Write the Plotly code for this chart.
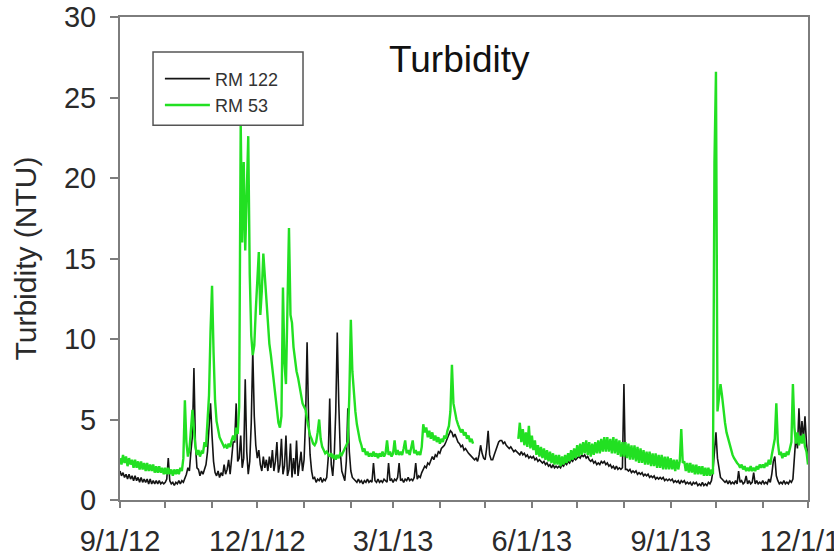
import pandas as pd
import plotly.graph_objects as go

# Daily turbidity (NTU), one value per day starting 2012-09-01, grouped by month.
rm122_ntu = (
    # Sep 2012
    [1.8, 1.5, 1.7, 1.4, 1.6, 1.3, 1.6, 1.3, 1.5, 1.2, 1.5, 1.2, 1.4, 1.1, 1.4,
     1.1, 1.3, 1.1, 1.3, 1.0, 1.3, 1.0, 1.2, 1.0, 1.2, 1.0, 1.2, 1.0, 1.1, 1.0]
    # Oct 2012
    + [1.1, 1.3, 2.6, 1.2, 1.0, 1.1, 0.9, 1.1, 1.0, 1.2, 1.0, 1.2, 1.1, 1.3, 1.6,
       2.0, 1.8, 3.0, 4.0, 8.2, 3.4, 2.0, 1.9, 1.5, 1.8, 1.6, 1.9, 2.2, 3.0, 4.5, 6.0]
    # Nov 2012
    + [4.0, 2.4, 1.7, 1.5, 1.8, 1.4, 1.7, 1.5, 2.2, 1.6, 1.9, 2.5, 1.6, 2.8, 3.6,
       3.6, 6.0, 2.4, 2.6, 4.0, 2.0, 2.6, 7.5, 3.0, 1.6, 2.4, 4.8, 9.3, 5.2, 3.4]
    # Dec 2012
    + [2.6, 3.1, 2.2, 1.8, 2.7, 2.0, 2.5, 1.8, 2.7, 2.0, 3.1, 1.8, 2.4, 3.6, 1.7,
       2.2, 3.8, 1.6, 2.1, 4.0, 1.5, 1.9, 3.5, 1.4, 2.6, 1.6, 3.7, 1.5, 2.2, 3.0, 1.8]
    # Jan 2013
    + [2.5, 5.0, 9.8, 5.0, 2.8, 1.8, 1.3, 1.4, 1.1, 1.3, 1.2, 1.4, 1.1, 1.3, 1.2,
       1.4, 2.6, 6.3, 2.2, 1.5, 2.8, 5.5, 10.4, 6.0, 3.0, 1.8, 1.4, 1.2, 2.4, 5.7, 3.0]
    # Feb 2013
    + [1.8, 1.4, 1.3, 1.2, 1.1, 1.3, 1.1, 1.2, 1.0, 1.2, 1.1, 1.3, 1.1, 1.2,
       1.1, 2.3, 1.2, 1.1, 1.3, 1.1, 1.2, 1.1, 1.3, 1.2, 1.1, 2.3, 1.2, 1.3]
    # Mar 2013
    + [1.1, 1.3, 1.2, 1.4, 2.3, 1.2, 1.3, 1.1, 1.3, 1.2, 1.4, 1.2, 1.3, 1.2, 1.4,
       2.3, 1.3, 1.5, 1.4, 1.7, 1.9, 2.1, 2.0, 2.3, 2.2, 2.5, 2.7, 2.5, 2.8, 2.7, 3.0]
    # Apr 2013
    + [2.9, 3.2, 3.3, 3.4, 3.6, 3.8, 4.0, 4.3, 4.2, 3.9, 4.1, 3.8, 3.6, 3.5, 3.3,
       3.4, 3.1, 3.2, 3.0, 2.9, 2.8, 2.7, 2.6, 2.5, 2.6, 2.4, 2.8, 3.4, 2.9, 2.6]
    # May 2013
    + [2.5, 3.2, 4.3, 2.8, 2.5, 2.5, 2.8, 3.1, 3.4, 3.6, 3.7, 3.7, 3.5, 3.6, 3.4,
       3.3, 3.2, 3.3, 3.1, 3.0, 3.1, 3.0, 2.9, 2.8, 3.0, 2.8, 2.9, 2.7, 2.8, 2.6, 2.7]
    # Jun 2013
    + [2.6, 2.7, 2.5, 2.6, 2.4, 2.5, 2.4, 2.3, 2.4, 2.2, 2.3, 2.1, 2.2, 2.0, 2.2,
       2.0, 2.1, 2.0, 2.1, 2.0, 2.2, 2.1, 2.3, 2.2, 2.4, 2.3, 2.5, 2.4, 2.6, 2.5]
    # Jul 2013
    + [2.6, 2.7, 2.6, 2.8, 2.7, 2.8, 2.6, 2.7, 2.5, 2.4, 2.5, 2.3, 2.4, 2.2, 2.3,
       2.2, 2.4, 2.3, 2.4, 2.2, 2.3, 2.1, 2.2, 2.0, 2.1, 1.9, 2.1, 1.9, 2.0, 1.9, 2.0]
    # Aug 2013
    + [7.2, 1.9, 1.9, 1.8, 1.9, 1.7, 1.8, 1.7, 1.8, 1.6, 1.7, 1.6, 1.7, 1.5, 1.6,
       1.5, 1.6, 1.4, 1.5, 1.4, 1.5, 1.3, 1.4, 1.3, 1.4, 1.3, 1.4, 1.2, 1.3, 1.2, 1.3]
    # Sep 2013
    + [1.2, 1.3, 1.1, 1.2, 1.1, 1.2, 1.0, 1.2, 1.1, 1.2, 1.0, 1.1, 1.0, 1.1, 0.9,
       1.1, 1.0, 1.1, 0.9, 1.0, 0.9, 1.1, 0.9, 1.0, 0.9, 1.1, 1.0, 1.2, 1.8, 3.0]
    # Oct 2013
    + [4.2, 2.6, 1.8, 1.4, 1.3, 1.2, 1.1, 1.2, 1.0, 1.2, 1.0, 1.1, 1.0, 1.2, 1.0,
       1.8, 1.1, 1.2, 1.0, 1.1, 1.5, 1.0, 1.2, 1.0, 1.1, 1.7, 1.0, 1.2, 1.0, 1.1, 1.0]
    # Nov 2013 + Dec 1
    + [1.2, 1.0, 1.1, 1.0, 1.3, 1.1, 1.6, 2.4, 2.7, 1.5, 1.2, 1.0, 1.1, 1.0, 1.2,
       1.0, 1.1, 1.0, 1.2, 1.1, 1.3, 2.8, 4.0, 3.2, 5.7, 3.6, 4.9, 3.8, 5.2, 3.5, 2.6]
)

N = None  # no record
rm53_ntu = (
    # Sep 2012
    [2.6, 2.2, 2.8, 2.3, 2.7, 2.1, 2.6, 2.2, 2.5, 2.0, 2.5, 2.0, 2.4, 1.9, 2.4,
     1.9, 2.3, 1.8, 2.3, 1.8, 2.2, 1.8, 2.2, 1.7, 2.1, 1.7, 2.1, 1.7, 2.0, 1.6]
    # Oct 2012
    + [2.0, 1.6, 2.0, 1.6, 1.9, 1.5, 1.9, 1.6, 1.9, 1.6, 2.0, 1.8, 2.6, 6.2, 3.6,
       2.7, 3.1, 4.2, 5.6, 4.4, 3.3, 2.8, 3.1, 2.7, 3.0, 2.9, 3.6, 3.3, 4.6, 6.5, 10.5]
    # Nov 2012
    + [13.3, 9.2, 6.2, 4.9, 4.3, 3.9, 3.7, 3.5, 3.3, 3.4, 3.2, 3.5, 3.3, 3.7, 4.0,
       3.7, 4.5, 4.1, 5.8, 23.4, 16.0, 21.0, 15.5, 19.0, 22.6, 14.0, 10.2, 9.0, 9.6, 11.8]
    # Dec 2012
    + [13.5, 15.4, 11.5, 13.0, 15.3, 14.0, 12.6, 10.8, 9.7, 9.0, 8.2, 7.5, 6.6, 5.6, 4.8,
       4.5, 5.2, 13.2, 8.5, 7.2, 12.0, 16.9, 11.5, 11.0, 9.5, 8.6, 8.0, 7.6, 7.0, 6.5, 6.0]
    # Jan 2013
    + [5.8, 5.6, 5.0, 4.5, 4.0, 3.8, 3.5, 3.4, 3.6, 4.2, 5.0, 3.8, 3.3, 3.1, 2.9,
       3.0, 2.8, 2.7, 2.9, 2.6, 2.8, 2.5, 2.8, 2.6, 2.9, 2.8, 3.0, 3.2, 3.4, 3.6, 6.5]
    # Feb 2013
    + [11.2, 8.0, 6.6, 5.5, 4.7, 4.1, 3.7, 3.4, 3.0, 3.2, 2.8, 3.0, 2.7, 2.9,
       2.7, 3.0, 2.7, 2.9, 2.6, 2.9, 2.7, 3.0, 2.7, 2.9, 3.7, 2.8, 3.0, 2.7]
    # Mar 2013
    + [2.9, 3.7, 2.8, 3.1, 2.8, 3.0, 2.8, 3.2, 3.7, 2.9, 3.1, 2.8, 3.2, 3.7, 2.9,
       3.1, 2.8, 3.0, 2.8, 3.3, 4.7, 4.2, 4.5, 3.9, 4.3, 3.8, 4.2, 3.7, 4.0, 3.6, 3.9]
    # Apr 2013 (record stops on Apr 23)
    + [3.5, 3.8, 3.6, 4.0, 3.8, 4.3, 4.6, 5.5, 8.4, 6.0, 5.4, 5.0, 4.7, 4.4, 4.2,
       4.4, 4.0, 4.2, 3.8, 4.0, 3.6, 3.8, 3.5, N, N, N, N, N, N, N]
    # May 2013 (record resumes on May 23)
    + [N, N, N, N, N, N, N, N, N, N, N, N, N, N, N,
       N, N, N, N, N, N, N, 3.8, 4.8, 3.6, 4.4, 3.4, 4.2, 3.3, 4.6, 3.2]
    # Jun 2013
    + [4.0, 3.1, 3.7, 2.8, 3.4, 2.7, 3.3, 2.6, 3.2, 2.5, 3.1, 2.4, 3.0, 2.3, 2.9,
       2.2, 2.8, 2.2, 2.8, 2.1, 2.7, 2.2, 2.8, 2.3, 2.9, 2.4, 3.1, 2.5, 3.2, 2.6]
    # Jul 2013
    + [3.4, 2.7, 3.5, 2.8, 3.6, 2.9, 3.7, 2.8, 3.6, 2.7, 3.5, 2.8, 3.6, 2.9, 3.7,
       2.9, 3.8, 3.0, 3.9, 3.0, 3.9, 3.0, 3.8, 2.9, 3.9, 2.9, 3.8, 2.8, 3.7, 2.7, 3.6]
    # Aug 2013
    + [2.7, 3.6, 2.6, 3.5, 2.5, 3.4, 2.5, 3.4, 2.4, 3.3, 2.3, 3.2, 2.3, 3.1, 2.2,
       3.0, 2.2, 3.0, 2.1, 2.9, 2.1, 2.9, 2.0, 2.8, 2.0, 2.8, 1.9, 2.7, 1.9, 2.7, 1.9]
    # Sep 2013
    + [2.6, 1.9, 2.5, 1.8, 2.5, 1.9, 2.4, 4.4, 2.3, 2.4, 1.8, 2.3, 1.7, 2.3, 1.7,
       2.2, 1.6, 2.2, 1.6, 2.1, 1.6, 2.1, 1.5, 2.0, 1.5, 2.0, 1.5, 1.9, 1.6, 21.0]
    # Oct 2013
    + [26.6, 5.5, 6.2, 7.2, 6.5, 5.5, 4.8, 4.2, 3.8, 3.5, 3.1, 2.8, 2.6, 2.4, 2.3,
       2.2, 2.0, 2.2, 1.9, 2.1, 1.8, 2.0, 1.8, 2.1, 1.8, 2.0, 1.8, 2.1, 1.9, 2.2, 2.0]
    # Nov 2013 + Dec 1
    + [2.2, 2.0, 2.3, 2.1, 2.5, 2.2, 2.8, 3.3, 3.8, 6.0, 3.6, 2.8, 3.0, 2.6, 2.9,
       2.7, 3.0, 2.8, 3.2, 3.6, 7.2, 4.5, 3.5, 4.2, 3.4, 4.0, 3.5, 4.1, 3.3, 3.0, 2.2]
)

record_start = "2012-09-01"
x_range = ["2012-09-01", "2013-12-01"]
month_ticks = pd.date_range("2012-09-01", "2013-12-01", freq="MS")
labelled = {"2012-09-01": "9/1/12", "2012-12-01": "12/1/12", "2013-03-01": "3/1/13",
            "2013-06-01": "6/1/13", "2013-09-01": "9/1/13", "2013-12-01": "12/1/13"}
tick_text = [labelled.get(d.strftime("%Y-%m-%d"), "") for d in month_ticks]

days_122 = pd.date_range(record_start, periods=len(rm122_ntu), freq="D")
days_53 = pd.date_range(record_start, periods=len(rm53_ntu), freq="D")

font_family = "Arial, Liberation Sans, sans-serif"
axis_grey = "#7d7d7d"
label_grey = "#2a2a2a"

fig = go.Figure()
fig.add_trace(go.Scatter(x=days_122, y=rm122_ntu, mode="lines", name="RM 122",
                         line=dict(color="#141414", width=1.6)))
fig.add_trace(go.Scatter(x=days_53, y=rm53_ntu, mode="lines", name="RM 53",
                         line=dict(color="#22e022", width=2.4), connectgaps=False))

# Framed legend box (the legend entries themselves sit inside it)
fig.add_shape(type="rect", xref="paper", yref="paper",
              x0=0.048, x1=0.266, y0=0.776, y1=0.9275, layer="above",
              line=dict(color="#555555", width=1.5), fillcolor="white")

fig.update_layout(
    width=834, height=557,
    margin=dict(l=120, r=26, t=17, b=57, autoexpand=False),
    paper_bgcolor="white", plot_bgcolor="white",
    font=dict(family=font_family, color=label_grey),
    showlegend=True,
    legend=dict(x=0.058, y=0.91, xanchor="left", yanchor="top",
                bgcolor="rgba(0,0,0,0)", borderwidth=0,
                font=dict(size=18, color="#333333"), itemwidth=45,
                tracegroupgap=0),
    annotations=[dict(text="Turbidity", x=0.493, y=0.912, xref="paper", yref="paper",
                      xanchor="center", yanchor="middle", showarrow=False,
                      font=dict(size=37, color="#111111"))],
)
fig.update_xaxes(
    type="date", range=x_range, tickvals=month_ticks, ticktext=tick_text,
    ticks="outside", ticklen=6, tickwidth=1.5, tickcolor=axis_grey,
    ticklabelstandoff=8, ticklabeloverflow="allow", automargin=False,
    showline=True, linecolor=axis_grey, linewidth=2, mirror=True,
    showgrid=False, zeroline=False, tickfont=dict(size=29, color=label_grey),
)
fig.update_yaxes(
    range=[0, 30], tickvals=[0, 5, 10, 15, 20, 25, 30],
    ticks="outside", ticklen=8, tickwidth=1.5, tickcolor=axis_grey,
    ticklabelstandoff=8, automargin=False,
    showline=True, linecolor=axis_grey, linewidth=2, mirror=True,
    showgrid=False, zeroline=False, tickfont=dict(size=29, color=label_grey),
    title=dict(text="Turbidity (NTU)", font=dict(size=30, color=label_grey), standoff=18),
)

fig.write_html("out.html")
